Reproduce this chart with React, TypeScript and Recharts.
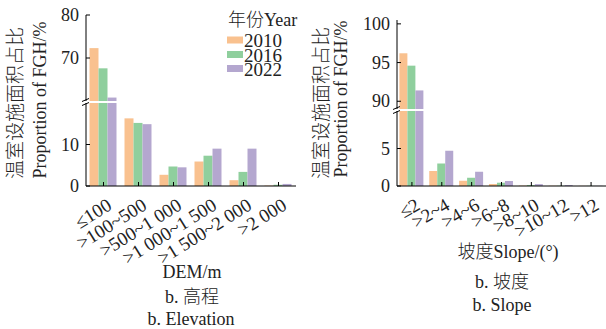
import React from 'react';
import { BarChart, Bar, XAxis, YAxis } from 'recharts';

const FONT = "'Liberation Serif', 'Times New Roman', 'Noto Sans CJK SC', serif";
const TEXT = '#222';
const COLORS = ['#F9C18F', '#8FCF9D', '#B4A7CF'];

const yearLabels = ['2010', '2016', '2022'];

const demCategories = ['≤100', '>100~500', '>500~1 000', '>1 000~1 500', '>1 500~2 000', '>2 000'];
const dem2010 = [72.3, 16.3, 2.7, 5.9, 1.4, 0.1];
const dem2016 = [67.6, 15.2, 4.7, 7.3, 3.4, 0.3];
const dem2022 = [60.8, 14.9, 4.5, 9.0, 9.0, 0.5];
const demUpperTicks = [70, 80];
const demLowerTicks = [0, 10];

const slopeCategories = ['≤2', '>2~4', '>4~6', '>6~8', '>8~10', '>10~12', '>12'];
const slope2010 = [96.2, 2.0, 0.7, 0.27, 0.05, 0.02, 0.02];
const slope2016 = [94.6, 3.0, 1.1, 0.44, 0.13, 0.04, 0.03];
const slope2022 = [91.4, 4.7, 1.9, 0.67, 0.25, 0.13, 0.03];
const slopeUpperTicks = [90, 95, 100];
const slopeLowerTicks = [0, 5];

const keys = ['y2010', 'y2016', 'y2022'];

function buildRows(cats: string[], a: number[], b: number[], c: number[]) {
  return cats.map((cat, i) => ({ cat, y2010: a[i], y2016: b[i], y2022: c[i] }));
}

const demRows = buildRows(demCategories, dem2010, dem2016, dem2022);
const slopeRows = buildRows(slopeCategories, slope2010, slope2016, slope2022);

const YTick = (props: any) => {
  const { x, y, payload } = props;
  return (
    <g>
      <line x1={x} y1={y} x2={x + 4} y2={y} stroke="#000" strokeWidth={1} />
      <text x={x - 7} y={y} textAnchor="end" dominantBaseline="central" fontSize={18} fontFamily={FONT} fill={TEXT}>
        {payload.value}
      </text>
    </g>
  );
};

const makeXTick = (angle: number, dx: number, dy: number) => (props: any) => {
  const { x, y, payload } = props;
  const tx = x + dx;
  const ty = y + dy;
  return (
    <g>
      <line x1={x} y1={y} x2={x} y2={y - 4} stroke="#000" strokeWidth={1} />
      <text
        x={tx}
        y={ty}
        textAnchor="end"
        dominantBaseline="central"
        fontSize={19}
        fontFamily={FONT}
        fill={TEXT}
        transform={`rotate(${angle}, ${tx}, ${ty})`}
      >
        {payload.value}
      </text>
    </g>
  );
};

const DemXTick = makeXTick(-32, 6, 17);
const SlopeXTick = makeXTick(-30, 6, 17);

type PanelProps = {
  rows: any[];
  width: number;
  axisX: number;
  rightMargin: number;
  upperTop: number;
  upperBottom: number;
  upperDomain: [number, number];
  upperTicks: number[];
  lowerTop: number;
  axisY: number;
  lowerDomain: [number, number];
  lowerTicks: number[];
  gap: string;
  XTick: any;
};

const H = 329;

function Panel(p: PanelProps) {
  const bars = keys.map((k, i) => (
    <Bar key={k} dataKey={k} fill={COLORS[i]} isAnimationActive={false} />
  ));
  return (
    <>
      <div style={{ position: 'absolute', left: 0, top: 0 }}>
        <BarChart
          width={p.width}
          height={H}
          data={p.rows}
          margin={{ top: p.upperTop, bottom: H - p.upperBottom, left: 0, right: p.rightMargin }}
          barCategoryGap={p.gap}
          barGap={0}
        >
          <XAxis dataKey="cat" hide />
          <YAxis
            type="number"
            domain={p.upperDomain}
            ticks={p.upperTicks}
            allowDataOverflow
            width={p.axisX}
            tickSize={0}
            tickMargin={0}
            tickLine={false}
            axisLine={{ stroke: '#000' }}
            tick={<YTick />}
            interval={0}
          />
          {bars}
        </BarChart>
      </div>
      <div style={{ position: 'absolute', left: 0, top: 0 }}>
        <BarChart
          width={p.width}
          height={H}
          data={p.rows}
          margin={{ top: p.lowerTop, bottom: H - p.axisY - 60, left: 0, right: p.rightMargin }}
          barCategoryGap={p.gap}
          barGap={0}
        >
          <XAxis
            dataKey="cat"
            height={60}
            interval={0}
            tickSize={0}
            tickMargin={0}
            tickLine={false}
            axisLine={{ stroke: '#000' }}
            tick={<p.XTick />}
          />
          <YAxis
            type="number"
            domain={p.lowerDomain}
            ticks={p.lowerTicks}
            allowDataOverflow
            width={p.axisX}
            tickSize={0}
            tickMargin={0}
            tickLine={false}
            axisLine={{ stroke: '#000' }}
            tick={<YTick />}
            interval={0}
          />
          {bars}
        </BarChart>
      </div>
    </>
  );
}

const BreakMark = ({ x, y1, y2 }: { x: number; y1: number; y2: number }) => (
  <g stroke="#000" strokeWidth={1}>
    <line x1={x - 4} y1={y1 + 1.5} x2={x + 3} y2={y1 - 1.5} />
    <line x1={x - 4} y1={y2 + 1.5} x2={x + 3} y2={y2 - 1.5} />
  </g>
);

export default function App() {
  const legendYs = [40, 54.5, 68.5];
  return (
    <div style={{ position: 'absolute', left: 0, top: 0, width: 606, height: 329, background: '#fff', overflow: 'hidden' }}>
      <div style={{ position: 'absolute', left: 0, top: 0, width: 300, height: H }}>
        <Panel
          rows={demRows}
          width={300}
          axisX={86}
          rightMargin={4}
          upperTop={15}
          upperBottom={101}
          upperDomain={[60, 80]}
          upperTicks={demUpperTicks}
          lowerTop={103}
          axisY={186}
          lowerDomain={[0, 20]}
          lowerTicks={demLowerTicks}
          gap="10%"
          XTick={DemXTick}
        />
      </div>
      <div style={{ position: 'absolute', left: 300, top: 0, width: 306, height: H }}>
        <Panel
          rows={slopeRows}
          width={306}
          axisX={97}
          rightMargin={0}
          upperTop={20}
          upperBottom={109}
          upperDomain={[89, 100.5]}
          upperTicks={slopeUpperTicks}
          lowerTop={111}
          axisY={186}
          lowerDomain={[0, 10]}
          lowerTicks={slopeLowerTicks}
          gap="8%"
          XTick={SlopeXTick}
        />
      </div>
      <svg
        width={606}
        height={329}
        style={{ position: 'absolute', left: 0, top: 0, pointerEvents: 'none' }}
        fontFamily={FONT}
        fill={TEXT}
      >
        <BreakMark x={86} y1={100} y2={104} />
        <BreakMark x={397} y1={108} y2={112} />

        <text x={15} y={103} fontSize={19} fontWeight={300} textAnchor="middle" dominantBaseline="central" transform="rotate(-90, 15, 103)">温室设施面积占比</text>
        <text x={40} y={100} fontSize={18} textAnchor="middle" dominantBaseline="central" transform="rotate(-90, 40, 100)">Proportion of FGH/%</text>
        <text x={321} y={103} fontSize={19} fontWeight={300} textAnchor="middle" dominantBaseline="central" transform="rotate(-90, 321, 103)">温室设施面积占比</text>
        <text x={341} y={99} fontSize={18} textAnchor="middle" dominantBaseline="central" transform="rotate(-90, 341, 99)">Proportion of FGH/%</text>

        <text x={228} y={20} fontSize={18} fontWeight={300} dominantBaseline="central">年份Year</text>
        {yearLabels.map((yl, i) => (
          <rect key={yl} x={227} y={legendYs[i] - 3.5} width={16} height={7} fill={COLORS[i]} />
        ))}
        <text fontSize={19} dominantBaseline="central">
          {yearLabels.map((yl, i) => (
            <tspan key={yl} x={244} y={legendYs[i]}>{yl}</tspan>
          ))}
        </text>

        <text x={192} y={272} fontSize={18} textAnchor="middle" dominantBaseline="central">DEM/m</text>
        <text x={192} y={297} fontSize={18} fontWeight={300} textAnchor="middle" dominantBaseline="central">b. 高程</text>
        <text x={191} y={319} fontSize={18} textAnchor="middle" dominantBaseline="central">b. Elevation</text>

        <text x={508} y={252} fontSize={18} fontWeight={300} textAnchor="middle" dominantBaseline="central">坡度Slope/(°)</text>
        <text x={502} y={282} fontSize={18} fontWeight={300} textAnchor="middle" dominantBaseline="central">b. 坡度</text>
        <text x={502} y={305} fontSize={18} textAnchor="middle" dominantBaseline="central">b. Slope</text>
      </svg>
    </div>
  );
}
